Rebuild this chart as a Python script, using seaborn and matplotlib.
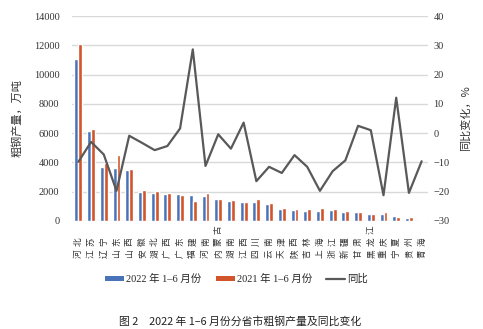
import matplotlib
matplotlib.use("Agg")
import matplotlib.pyplot as plt
import seaborn as sns
import pandas as pd
from matplotlib.patches import Patch
from matplotlib.lines import Line2D
import matplotlib.transforms as mtransforms

provinces = ["河北", "江苏", "辽宁", "山东", "山西", "安徽", "湖北", "广西", "广东", "福建",
             "河南", "内蒙古", "湖南", "江西", "四川", "云南", "天津", "陕西", "吉林", "上海",
             "浙江", "新疆", "甘肃", "黑龙江", "重庆", "宁夏", "贵州", "青海"]
output_2022 = [11036, 6133, 3694, 3625, 3511, 1984, 1893, 1847, 1824, 1778,
               1710, 1528, 1345, 1322, 1300, 1140, 798, 775, 707, 707,
               730, 638, 593, 479, 456, 319, 228, 68]
output_2021 = [12085, 6316, 3990, 4492, 3557, 2098, 2029, 1938, 1801, 1391,
               1938, 1505, 1414, 1277, 1505, 1254, 912, 798, 798, 866,
               798, 707, 593, 456, 593, 296, 274, 91]
yoy_change = [-9.8, -3.0, -7.3, -19.7, -0.9, -3.3, -5.8, -4.4, 1.6, 28.6,
              -11.2, -0.4, -5.3, 3.6, -16.4, -11.5, -13.6, -7.5, -11.5, -19.7,
              -13.0, -9.3, 2.5, 1.0, -21.2, 12.1, -20.4, -9.6]
series_names = ["2022 年 1–6 月份", "2021 年 1–6 月份", "同比"]
left_ticks = [0, 2000, 4000, 6000, 8000, 10000, 12000, 14000]
right_ticks = [-30, -20, -10, 0, 10, 20, 30, 40]

BLUE = "#4A72B8"
RED = "#D2542A"
GREY = "#595959"
GRID = "#D9D9D9"
TXT = "#333333"

sns.set_theme(style="white")
plt.rcParams["font.family"] = ["Liberation Serif", "Noto Sans CJK SC", "DejaVu Sans"]

df = pd.DataFrame({
    "省市": provinces * 2,
    "产量": output_2022 + output_2021,
    "期间": [series_names[0]] * len(provinces) + [series_names[1]] * len(provinces),
})
dfl = pd.DataFrame({"省市": provinces, "同比": yoy_change})

W, H = 483, 329
fig = plt.figure(figsize=(W / 100, H / 100), dpi=100)
ax_left, ax_right, ax_top, ax_bottom = 72, 428, 16, 221
ax = fig.add_axes([ax_left / W, 1 - ax_bottom / H, (ax_right - ax_left) / W,
                   (ax_bottom - ax_top) / H])

sns.barplot(data=df, x="省市", y="产量", hue="期间", order=provinces,
            palette=[BLUE, RED], width=0.62, gap=0, saturation=1,
            ax=ax, legend=False, zorder=3)
ax.set_xlim(-0.5, len(provinces) - 0.5)
ax.set_ylim(0, 14000)
ax.set_yticks(left_ticks)
ax.set_yticklabels([str(t) for t in left_ticks], fontsize=7.5, color=TXT,
                   family="Liberation Serif")
ax.yaxis.grid(True, color=GRID, linewidth=1.0, zorder=0)
ax.set_axisbelow(True)
ax.tick_params(axis="y", length=0, pad=9)
ax.tick_params(axis="x", length=0)
ax.set_xticklabels([])
ax.set_xlabel("")
ax.set_ylabel("粗钢产量，万吨", fontsize=8, color=TXT, family=["Noto Sans CJK SC"],
              labelpad=8)
for s in ax.spines.values():
    s.set_visible(False)

# category labels: rotated text, each character placed with wide spacing, bottom aligned
trans = mtransforms.blended_transform_factory(ax.transData, ax.transAxes)
ph = ax_bottom - ax_top
for i, name in enumerate(provinces):
    for j, ch in enumerate(name):
        yc = 253.5 - 12.0 * j
        ax.text(i, (ax_bottom - yc) / ph, ch, transform=trans, ha="center", va="center",
                rotation=90, fontsize=6.2, color=TXT, family=["Noto Sans CJK SC"])

ax2 = ax.twinx()
sns.lineplot(data=dfl, x="省市", y="同比", color=GREY, linewidth=1.6, ax=ax2,
             sort=False, zorder=4)
ax2.set_xlim(-0.5, len(provinces) - 0.5)
ax2.set_ylim(-30, 40)
ax2.set_yticks(right_ticks)
ax2.set_yticklabels(["−30", "−20", "−10", "0", "10", "20", "30", "40"], fontsize=7.5,
                    color=TXT, family="Liberation Serif")
ax2.tick_params(axis="y", length=0, pad=4)
ax2.set_ylabel("同比变化，%", fontsize=8, color=TXT, family=["Noto Sans CJK SC"],
               rotation=90, labelpad=8)
ax2.grid(False)
for s in ax2.spines.values():
    s.set_visible(False)

handles = [Patch(facecolor=BLUE, edgecolor="none"),
           Patch(facecolor=RED, edgecolor="none"),
           Line2D([0], [0], color=GREY, linewidth=1.6)]
fig.legend(handles, series_names, loc="center", bbox_to_anchor=(0.49, 1 - 279 / H),
           ncol=3, frameon=False, handlelength=1.8, handleheight=0.4,
           handletextpad=0.2, columnspacing=1.4,
           prop={"family": ["Liberation Serif", "Noto Sans CJK SC"], "size": 7.5})

fig.text(0.497, 1 - 321 / H, "图 2　2022 年 1–6 月份分省市粗钢产量及同比变化",
         ha="center", va="center", fontsize=7.8, color="#222222",
         family=["Noto Sans CJK SC"])

fig.savefig("out.png", dpi=100)
